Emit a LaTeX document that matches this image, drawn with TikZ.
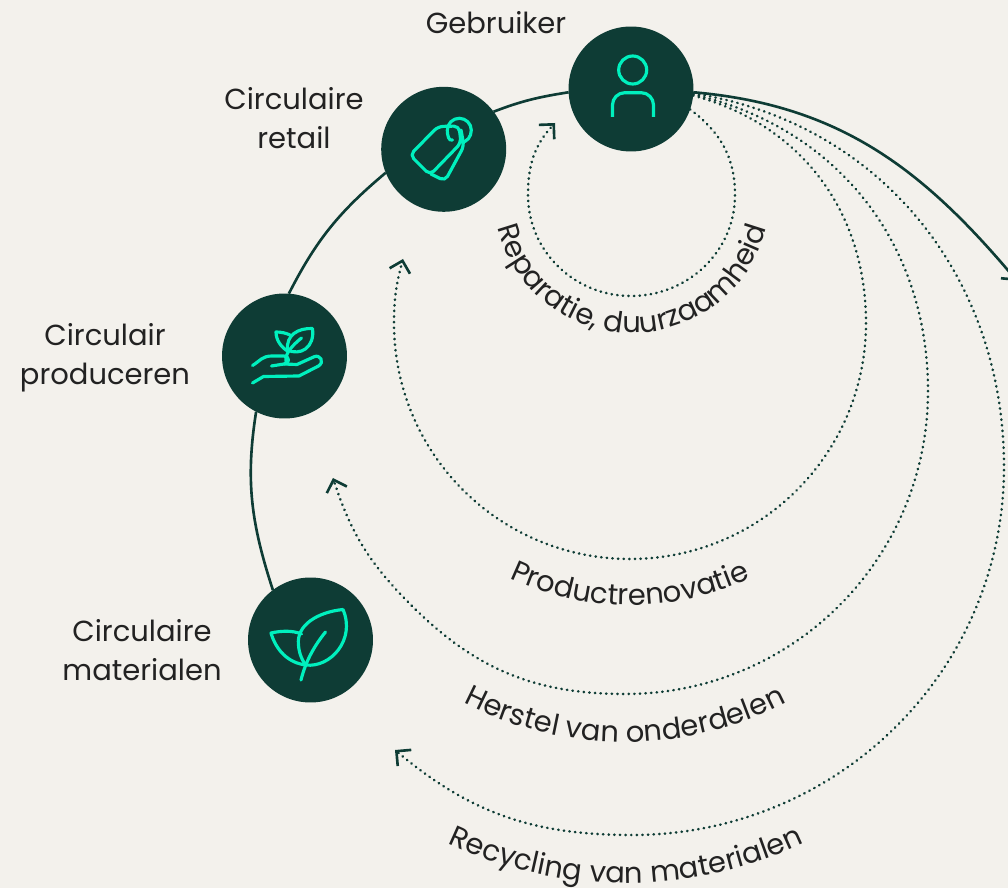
\documentclass[tikz,border=0pt]{standalone}
\usepackage{fontspec}
\setmainfont{Poppins}
\usetikzlibrary{arrows.meta,decorations.text}
\definecolor{paper}{RGB}{243,241,236}
\definecolor{pine}{RGB}{14,60,53}
\definecolor{mint}{RGB}{0,240,190}
\definecolor{ink}{RGB}{34,34,34}
\newcommand{\lblfont}{\fontsize{16.5}{22}\selectfont}
\tikzset{
    hub/.style={circle,fill=pine,minimum size=2.5cm,inner sep=0pt,outer sep=0pt},
    glyph/.style={draw=mint,line width=1.8pt,line cap=round,line join=round},
    ring/.style={draw=pine,line width=1.5pt},
    ringtip/.style={ring,-{Straight Barb[sharp,length=6pt,width=12pt,line width=1.5pt]}},
    flow/.style={draw=pine,line width=1.5pt,line cap=round,dash pattern=on 0.2pt off 3pt,
        -{Straight Barb[sharp,length=6pt,width=12pt,line width=1.5pt]}},
    caption/.style={text=ink,font=\lblfont,align=center},
    along/.style={decorate,decoration={text along path,text align=center,text color=ink,text={|\lblfont|#1}}}
}
\begin{document}
\begin{tikzpicture}[x=0.02cm,y=-0.02cm]
    \useasboundingbox (0,0) rectangle (1008,888);
    \fill[paper] (0,0) rectangle (1008,888);
    % stations
    \node[hub] (user) at (631,89) {};
    \node[hub] (retail) at (443.7,149.3) {};
    \node[hub] (maker) at (284.5,356) {};
    \node[hub] (source) at (310.5,640) {};
    \node[caption] (userlbl) at (496,23) {Gebruiker};
    \node[caption] (retaillbl) at (294,118) {Circulaire\\retail};
    \node[caption] (makerlbl) at (105,358) {Circulair\\produceren};
    \node[caption] (sourcelbl) at (142,650) {Circulaire\\materialen};
    % main loop
    \coordinate (exit) at (1017,281);
    \draw[ring] (source.127) to[out=108,in=261] (maker.243);
    \draw[ring] (maker.86) to[out=63,in=220] (retail.202);
    \draw[ring] (retail.37) to[out=21,in=189] (user.183);
    \draw[ringtip] (user.-3) to[out=-5,in=130] (exit);
    % return loops
    \coordinate (fixE) at (735,195);
    \coordinate (fixS) at (631,296);
    \coordinate (fixW) at (528,195);
    \coordinate (fixEnd) at (555,123);
    \draw[flow] (user.-19) to[out=-37,in=90] (fixE) to[out=-90,in=0] (fixS)
        to[out=180,in=-90] (fixW) to[out=90,in=227] (fixEnd);
    \coordinate (prodE) at (866,323);
    \coordinate (prodS) at (630,559);
    \coordinate (prodW) at (394,323);
    \coordinate (prodEnd) at (403,259);
    \draw[flow] (user.-6) to[out=-15,in=90] (prodE) to[out=-90,in=0] (prodS)
        to[out=180,in=-90] (prodW) to[out=90,in=255] (prodEnd);
    \coordinate (partE) at (928,391);
    \coordinate (partS) at (625,694);
    \coordinate (partW) at (411,605);
    \coordinate (partEnd) at (333,478);
    \draw[flow] (user.-5) to[out=-13,in=90] (partE) to[out=-90,in=0] (partS)
        to[out=180,in=315] (partW) to[out=135,in=288] (partEnd);
    \coordinate (recE) at (1004,467);
    \coordinate (recS) at (632,835);
    \coordinate (recEnd) at (395,750);
    \draw[flow] (user.-4) to[out=-9,in=90] (recE) to[out=-90,in=0] (recS)
        to[out=180,in=320] (recEnd);
    % curved labels
    \path[along={Reparatie, duurzaamheid}] (494,195) to[out=-90,in=180] (632,333) to[out=0,in=-90] (770,195);
    \path[along={Productrenovatie}] (348,323) to[out=-90,in=180] (630,605) to[out=0,in=-90] (912,323);
    \path[along={Herstel van onderdelen}] (274,391) to[out=-90,in=180] (625,742) to[out=0,in=-90] (976,391);
    \path[along={Recycling van materialen}] (210,467) to[out=-90,in=180] (626,883) to[out=0,in=-90] (1042,467);
    % user glyph
    \draw[glyph] (632.7,70) circle (14);
    \draw[glyph,line cap=butt,rounded corners=7pt] (612.5,117) -- (612.5,92.7) -- (653.5,92.7) -- (653.5,117);
    % tag glyph
    \draw[glyph,rounded corners=3pt] (438,126.5) -- (459,126) -- (461,143) -- (430,175) -- (410,155) -- cycle;
    \draw[glyph,rounded corners=3pt] (461,130) -- (464,146) -- (445,181) -- (431,174);
    \draw[glyph] (452.5,140) to[out=205,in=-90] (447.3,130.3) to[out=90,in=180] (459.3,118.3)
        to[out=0,in=90] (471.3,130.3) to[out=-90,in=-5] (461,142);
    % plant glyph
    \draw[glyph] (252.5,365.5) .. controls (260,361) and (262,356) .. (272,356) -- (284,356)
        .. controls (290,356) and (290,364) .. (284,364) -- (271.5,366);
    \draw[glyph] (284,364) -- (297,364.5) -- (314,356.8) .. controls (320,354) and (325,362) .. (318.5,366)
        -- (299,376) -- (263.5,376.5) -- (252.5,383);
    \draw[glyph] (290,335) .. controls (286,333) and (281,332) .. (276,332) .. controls (276,340) and (281,347) .. (287.5,351);
    \draw[glyph] (312.5,328.5) .. controls (298,328) and (286,335) .. (287.5,350) .. controls (300,356) and (315,348) .. (312.5,328.5);
    \draw[glyph] (301.5,338) .. controls (294,344) and (282,355) .. (287,364);
    % leaf glyph
    \draw[glyph] (343,609.5) .. controls (318,612) and (296,625) .. (298.5,645) .. controls (299,654) and (303,662) .. (306,665)
        .. controls (330,668) and (356,640) .. (343,609.5);
    \draw[glyph] (301.5,634) .. controls (292,630) and (280,631) .. (271,633) .. controls (276,650) and (288,663) .. (306,665);
    \draw[glyph] (301,680) .. controls (306,660) and (315,645) .. (325.5,632);
\end{tikzpicture}
\end{document}
